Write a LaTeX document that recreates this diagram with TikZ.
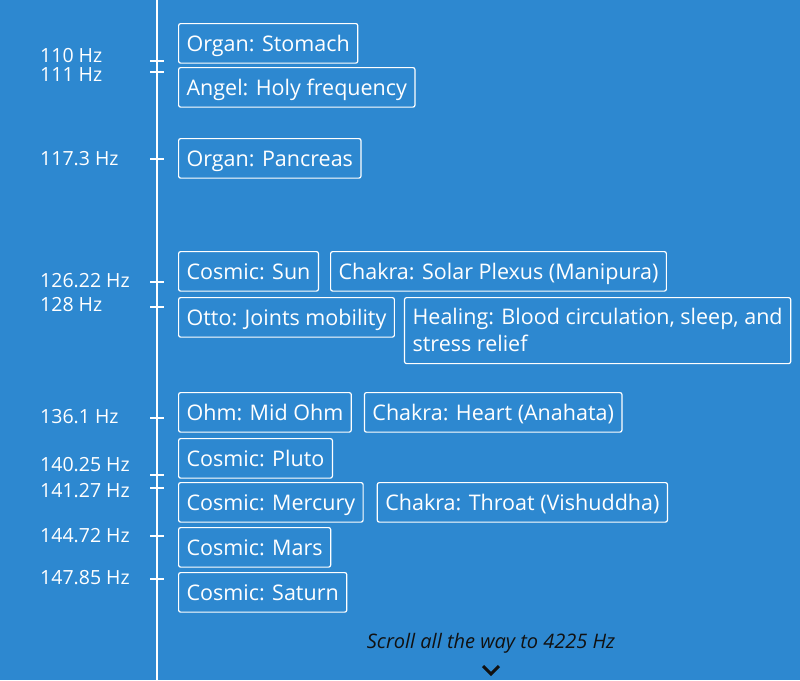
\documentclass[tikz,border=0pt]{standalone}
\usepackage{fontspec}
\setmainfont{Open Sans}
\usepackage{xcolor}
\usepackage{tikz}
\usetikzlibrary{positioning}
\definecolor{bgblue}{RGB}{45,136,208}
\definecolor{inkdark}{RGB}{17,17,17}

\begin{document}
\begin{tikzpicture}[
  x=1pt, y=-1pt,
  font=\fontsize{21.5}{27}\selectfont,
  box/.style={draw=white, line width=1.2pt, rounded corners=2pt, text=white, anchor=north west,
    inner xsep=8pt, inner ysep=7pt, minimum height=39.5pt, align=left,
    text height=15.5pt, text depth=0pt},
  hz/.style={text=white, anchor=west, inner sep=0pt, font=\fontsize{19.5}{23}\selectfont},
  tickmark/.style={white, line width=1.8pt},
  axis/.style={white, line width=1.5pt}
]
\fill[bgblue] (0,0) rectangle (800,680);
\useasboundingbox (0,0) rectangle (800,680);
% ---------------- axis
\coordinate (top) at (157,0);
\coordinate (bot) at (157,680);
\draw[axis] (top) -- (bot);
% ---------------- frequency labels
\node[hz] (f110) at (40,56) {110 Hz};
\node[hz] (f111) at (40,75) {111 Hz};
\node[hz] (f117) at (40,159) {117.3 Hz};
\node[hz] (f126) at (40,281) {126.22 Hz};
\node[hz] (f128) at (40,305) {128 Hz};
\node[hz] (f136) at (40,417) {136.1 Hz};
\node[hz] (f140) at (40,465) {140.25 Hz};
\node[hz] (f141) at (40,491) {141.27 Hz};
\node[hz] (f144) at (40,536) {144.72 Hz};
\node[hz] (f147) at (40,578) {147.85 Hz};
% ---------------- ticks on the axis
\draw[tickmark] (150,61) -- (164,61);
\draw[tickmark] (150,72) -- (164,72);
\draw[tickmark] (150,159) -- (164,159);
\draw[tickmark] (150,282) -- (164,282);
\draw[tickmark] (150,307) -- (164,307);
\draw[tickmark] (150,418) -- (164,418);
\draw[tickmark] (150,475) -- (164,475);
\draw[tickmark] (150,488) -- (164,488);
\draw[tickmark] (150,536) -- (164,536);
\draw[tickmark] (150,579) -- (164,579);
% ---------------- entries
\node[box] (stomach) at (178,23) {Organ: Stomach};
\node[box] (angel) at (178,67) {Angel: Holy frequency};
\node[box] (pancreas) at (178,138) {Organ: Pancreas};
\node[box] (sun) at (178,251) {Cosmic: Sun};
\node[box, right=11pt of sun.north east, anchor=north west] (solar) {Chakra: Solar Plexus (Manipura)};
\node[box] (otto) at (178,297) {Otto: Joints mobility};
\node[box, right=9pt of otto.north east, anchor=north west, minimum height=66pt, text height=42.5pt] (healing) {Healing: Blood circulation, sleep, and\\ stress relief};
\node[box] (ohm) at (178,392) {Ohm: Mid Ohm};
\node[box, right=12pt of ohm.north east, anchor=north west] (heart) {Chakra: Heart (Anahata)};
\node[box] (pluto) at (178,438) {Cosmic: Pluto};
\node[box] (mercury) at (178,482) {Cosmic: Mercury};
\node[box, right=13pt of mercury.north east, anchor=north west] (throat) {Chakra: Throat (Vishuddha)};
\node[box] (mars) at (178,527) {Cosmic: Mars};
\node[box] (saturn) at (178,572) {Cosmic: Saturn};
% ---------------- footer
\node[text=inkdark, font=\fontsize{20}{24}\selectfont\itshape] (scroll) at (491,643) {Scroll all the way to 4225 Hz};
\coordinate (chev) at (491,674);
\draw[inkdark, line width=3pt] ([shift={(-8,-8)}]chev) -- (chev) -- ([shift={(8,-8)}]chev);
\end{tikzpicture}
\end{document}
